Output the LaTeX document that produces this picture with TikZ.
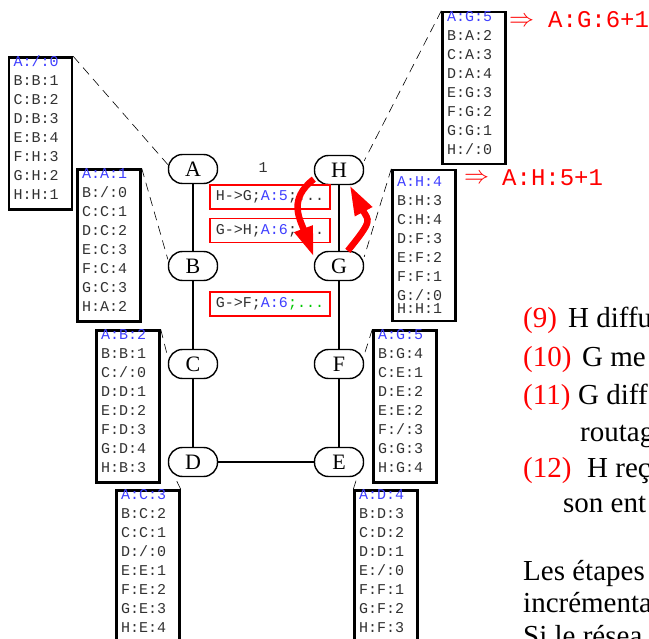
\documentclass[tikz,border=0pt]{standalone}
\usepackage{fontspec}
\usepackage{graphicx}
\setmainfont{Liberation Serif}
\setmonofont{Liberation Mono}
\usetikzlibrary{arrows.meta}
\definecolor{tblue}{RGB}{64,64,255}
\definecolor{tgray}{RGB}{50,50,50}
\definecolor{tgreen}{RGB}{0,200,0}
\newcommand{\rtab}[8]{\raisebox{4pt}[\height][\depth]{\makebox[54pt][l]{\begin{tabular}{@{}l@{}}\textcolor{tblue}{#1}\\#2\\#3\\#4\\#5\\#6\\#7\\#8\end{tabular}}}}
\begin{document}
\begin{tikzpicture}[x=1pt,y=-1pt,
  router/.style={draw, line width=1.4pt, rectangle, rounded corners=14pt, minimum width=49pt, minimum height=29pt, inner sep=0pt, font=\fontsize{22}{22}\selectfont},
  tbl/.style={draw, line width=2.4pt, minimum width=63pt, minimum height=151pt, inner sep=0pt, font=\fontsize{15}{19}\selectfont\ttfamily, text=tgray},
  msg/.style={draw=red, line width=1.6pt, minimum width=120pt, minimum height=24pt, inner sep=0pt, font=\fontsize{15}{19}\selectfont\ttfamily, text=tgray},
  edge/.style={line width=1.6pt},
  dlink/.style={dash pattern=on 9pt off 6pt, line width=0.6pt},
  redarr/.style={red, line width=6.5pt, -{Triangle[length=30pt,width=18pt]}},
  num/.style={anchor=base west, inner sep=0pt, text=red, font=\fontsize{29}{29}\selectfont},
  txt/.style={anchor=base west, inner sep=0pt, font=\fontsize{29}{29}\selectfont},
  newval/.style={anchor=base west, inner sep=0pt, text=red, font=\fontsize{24}{24}\selectfont\ttfamily},
  impl/.style={anchor=center, inner sep=0pt, text=red}
]
\useasboundingbox (0,0) rectangle (649,639);
\fill[white] (0,0) rectangle (649,639);
\clip (0,0) rectangle (649,639);

% routers
\node[router] (A) at (193,169) {A};
\node[router] (B) at (193,266) {B};
\node[router] (C) at (193,364) {C};
\node[router] (D) at (193,462) {D};
\node[router] (H) at (339,170) {H};
\node[router] (G) at (339,266) {G};
\node[router] (F) at (339,364) {F};
\node[router] (E) at (339,462) {E};

\draw[edge] (A) -- (B);
\draw[edge] (B) -- (C);
\draw[edge] (C) -- (D);
\draw[edge] (D) -- (E);
\draw[edge] (E) -- (F);
\draw[edge] (F) -- (G);
\draw[edge] (G) -- (H);

\node[inner sep=0pt, text=tgray, font=\fontsize{15}{19}\selectfont\ttfamily] (one) at (263,168) {1};

% messages
\node[msg] (m1) at (270,197) {H->G;\textcolor{tblue}{A:5};...};
\node[msg] (m2) at (270,230.5) {G->H;\textcolor{tblue}{A:6};...};
\node[msg] (m3) at (270,304) {G->F;\textcolor{tblue}{A:6}\textcolor{tgreen}{;...}};

% tables
\node[tbl] (tA) at (40.5,133.5) {\rtab{A:/:0}{B:B:1}{C:B:2}{D:B:3}{E:B:4}{F:H:3}{G:H:2}{H:H:1}};
\node[tbl] (tB) at (109,245.5) {\rtab{A:A:1}{B:/:0}{C:C:1}{D:C:2}{E:C:3}{F:C:4}{G:C:3}{H:A:2}};
\node[tbl] (tC) at (128,406.5) {\rtab{A:B:2}{B:B:1}{C:/:0}{D:D:1}{E:D:2}{F:D:3}{G:D:4}{H:B:3}};
\node[tbl] (tD) at (148,566.5) {\rtab{A:C:3}{B:C:2}{C:C:1}{D:/:0}{E:E:1}{F:E:2}{G:E:3}{H:E:4}};
\node[tbl] (tH) at (474,88) {\rtab{A:G:5}{B:A:2}{C:A:3}{D:A:4}{E:G:3}{F:G:2}{G:G:1}{H:/:0}};
\node[tbl] (tG) at (424,245.5) {\raisebox{-1pt}[\height][\depth]{\makebox[54pt][l]{\begin{tabular}{@{}l@{}}\textcolor{tblue}{A:H:4}\\B:H:3\\C:H:4\\D:F:3\\E:F:2\\F:F:1\\G:/:0\\[-6pt]H:H:1\end{tabular}}}};
\node[tbl] (tF) at (405,406.5) {\rtab{A:G:5}{B:G:4}{C:E:1}{D:E:2}{E:E:2}{F:/:3}{G:G:3}{H:G:4}};
\node[tbl] (tE) at (386,566.5) {\rtab{A:D:4}{B:D:3}{C:D:2}{D:D:1}{E:/:0}{F:F:1}{G:F:2}{H:F:3}};

% dashed links
\draw[dlink] (tA.north east) -- (A.170);
\draw[dlink] (tB.north east) -- (B.165);
\draw[dlink] (tC.north east) -- (C.165);
\draw[dlink] (tD.north east) -- (D.-140);
\draw[dlink] (tH.north west) -- (H.20);
\draw[dlink] (tG.north west) -- (G.20);
\draw[dlink] (tF.north west) -- (F.20);
\draw[dlink] (tE.north west) -- (E.-40);

% red arrows
\draw[redarr] (H.200) .. controls +(-26,20) and +(-14,-38) .. (G.160);
\draw[redarr] (G.60) .. controls +(26,-32) and +(19,36) .. (H.-55);

% new values
\node[impl] (iG) at (521.5,22) {\scalebox{2.5}{$\Rightarrow$}};
\node[newval] (vG) at (548,28) {A:G:6+1};
\node[impl] (iH) at (476.5,179) {\scalebox{2.5}{$\Rightarrow$}};
\node[newval] (vH) at (502,186) {A:H:5+1};

% right text
\node[num] (n9) at (523,328) {(9)};
\node[txt] (s9) at (568,328) {H diffu};
\node[num] (n10) at (523,367) {(10)};
\node[txt] (s10) at (582,367) {G me};
\node[num] (n11) at (523,405) {(11)};
\node[txt] (s11) at (578,405) {G diff};
\node[txt] (s11b) at (580,442) {routag};
\node[num] (n12) at (523,478) {(12)};
\node[txt] (s12) at (587,478) {H reç};
\node[txt] (s12b) at (563,512) {son ent};
\node[txt] (p1) at (523,580) {Les étapes};
\node[txt] (p2) at (523,612) {incrémenta};
\node[txt] (p3) at (523,645) {Si le résea};
\end{tikzpicture}
\end{document}
